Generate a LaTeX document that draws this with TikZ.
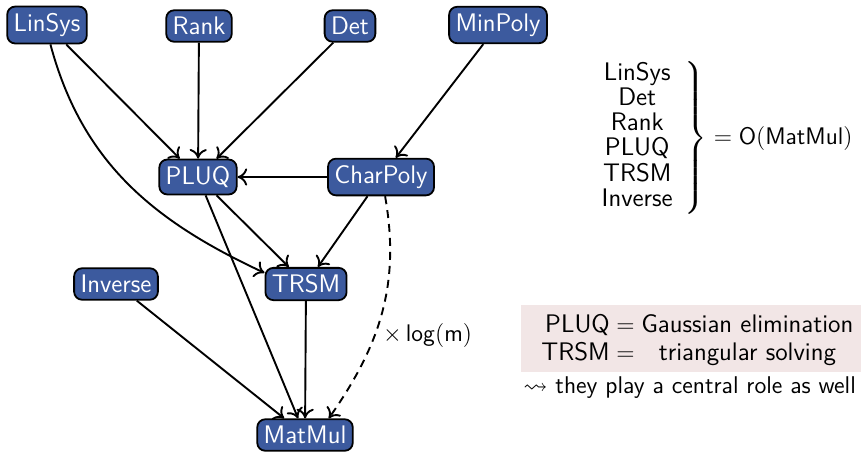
\documentclass[tikz,border=0pt]{standalone}
\usepackage{amssymb}
\usetikzlibrary{arrows.meta}
\definecolor{nodeblue}{RGB}{60,90,158}
\definecolor{pinkbg}{RGB}{242,230,230}
\newcommand{\myfont}{\fontsize{12.7}{15.2}\selectfont\sffamily}
\tikzset{
  bx/.style={draw=black, line width=0.9pt, fill=nodeblue, text=white,
    rounded corners=4pt, inner xsep=3.2pt, inner ysep=3.4pt, font=\myfont},
  edge/.style={line width=0.95pt, -{To[length=4.8pt,width=8.6pt]}},
  txt/.style={inner sep=0pt, font=\myfont}
}
\begin{document}
\begin{tikzpicture}[x=0.5pt,y=-0.5pt]
\useasboundingbox (0,0) rectangle (861,452);
% nodes
\node[bx] (linsys) at (47,25) {LinSys};
\node[bx] (rank) at (199,26) {Rank};
\node[bx] (det) at (350,26) {Det};
\node[bx] (minpoly) at (498,25) {MinPoly};
\node[bx] (pluq) at (198,177) {PLUQ};
\node[bx] (charpoly) at (381,177) {CharPoly};
\node[bx] (inverse) at (116,284) {Inverse};
\node[bx] (trsm) at (306,284) {TRSM};
\node[bx] (matmul) at (305,435) {MatMul};
% edges
\draw[edge] (linsys) -- (pluq);
\draw[edge] (rank) -- (pluq);
\draw[edge] (det) -- (pluq);
\draw[edge] (minpoly) -- (charpoly);
\draw[edge] (charpoly) -- (pluq);
\draw[edge] (linsys.-80) to[out=-75,in=155] (trsm.165);
\draw[edge] (pluq) -- (trsm);
\draw[edge] (charpoly) -- (trsm);
\draw[edge] (pluq) -- (matmul);
\draw[edge] (inverse) -- (matmul);
\draw[edge] (trsm) -- (matmul);
\draw[edge, dash pattern=on 4pt off 3pt] (charpoly.-78) to[out=-80,in=55]
  node[pos=0.6, anchor=west, txt, xshift=3.5pt, yshift=-1pt] {$\times\,\mathsf{log}(\mathsf{m})$} (matmul.35);
% right side summary
\node[txt, anchor=east] (summary) at (853,138)
  {$\renewcommand\arraystretch{0.8}\left.\begin{tabular}{c}\myfont LinSys\\\myfont Det\\\myfont Rank\\\myfont PLUQ\\\myfont TRSM\\\myfont Inverse\end{tabular}\right\}=\mathsf{O}(\mathsf{MatMul})$};
% pink box
\fill[pinkbg] (521,305) rectangle (861,372);
\node[txt, anchor=west] (defs) at (541,341)
  {\renewcommand\arraystretch{0.9}\begin{tabular}{@{}r@{}c@{}c@{}}
   PLUQ & $\;=\;$ & Gaussian elimination\\
   TRSM & $\;=\;$ & triangular solving
   \end{tabular}};
\node[txt, anchor=west, font=\fontsize{12.1}{14.5}\selectfont\sffamily] (note) at (523,388) {$\leadsto$ they play a central role as well};
\end{tikzpicture}
\end{document}
